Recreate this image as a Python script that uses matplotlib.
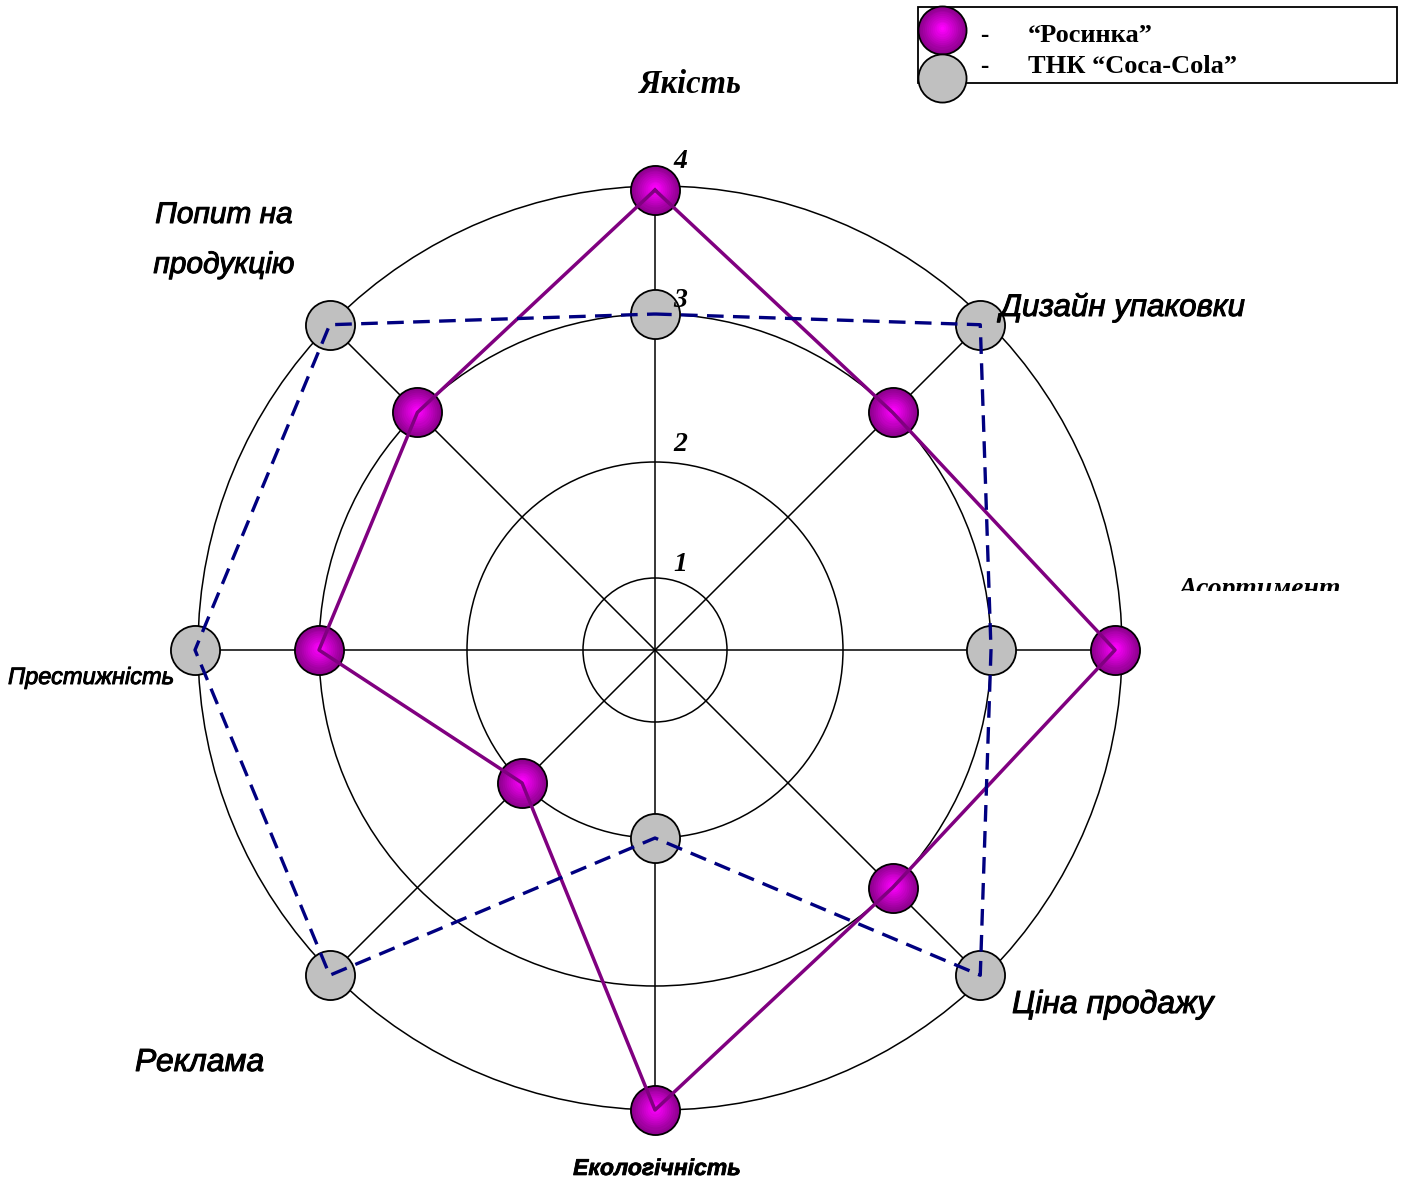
import numpy as np
import matplotlib
matplotlib.use("Agg")
import matplotlib.pyplot as plt
import matplotlib.patheffects as pe
from matplotlib.patches import Circle, Rectangle

# Показники (за годинниковою стрілкою, починаючи зверху)
pokaznyky = ["Якість", "Дизайн упаковки", "Асортимент", "Ціна продажу",
             "Екологічність", "Реклама", "Престижність", "Попит на\nпродукцію"]
rosynka = [4, 3, 4, 3, 4, 2, 3, 3]
coca_cola = [3, 4, 3, 4, 2, 4, 4, 4]

# Кола шкали (радіуси нерівномірні, як на рисунку)
shkala = [1, 2, 3, 4]
shkala_r = [72, 188, 336, 460]
pidpys_dy = [7, 11, 7, 22]

cx, cy = 655, 650
kuty = np.deg2rad(90 - 45 * np.arange(len(pokaznyky)))


def koord(znach):
    r = np.interp(znach, shkala, shkala_r)
    return cx + r * np.cos(kuty), cy - r * np.sin(kuty)


fig = plt.figure(figsize=(14.02, 11.8), dpi=100)
ax = fig.add_axes([0, 0, 1, 1])
ax.set_xlim(0, 1402)
ax.set_ylim(1180, 0)
ax.axis("off")

# Кола та промені
for i, r in enumerate(shkala_r):
    c = (cx + 5, cy - 2) if i == len(shkala_r) - 1 else (cx, cy)
    ax.add_patch(Circle(c, r + (2 if i == len(shkala_r) - 1 else 0), fill=False,
                        ec="black", lw=1.1, zorder=1))
R = shkala_r[-1]
for t in kuty[:4]:
    ax.plot([cx - R * np.cos(t), cx + R * np.cos(t)],
            [cy + R * np.sin(t), cy - R * np.sin(t)], color="black", lw=1.1, zorder=1)


def kulky(x, y, s=1250):
    # імітація градієнта кульки шарами
    x = np.asarray(x, dtype=float)
    y = np.asarray(y, dtype=float)
    ax.scatter(x, y, s=s, c="#900090", edgecolors="black", linewidths=1.3, zorder=2)
    for k in range(1, 12):
        f = 1 - k / 12
        col = (0.56 + 0.44 * k / 11, 0, 0.56 + 0.44 * k / 11)
        ax.scatter(x, y - 2 * k / 11, s=s * f ** 2 * 0.95, color=col, lw=0, zorder=2)


xr, yr = koord(rosynka)
xc, yc = koord(coca_cola)

kulky(xr, yr)
ax.scatter(xc, yc, s=1250, c="#c0c0c0", edgecolors="black", linewidths=1.3, zorder=2)

ax.plot(np.append(xr, xr[0]), np.append(yr, yr[0]), color="#800080", lw=2.5, zorder=3)
ax.plot(np.append(xc, xc[0]), np.append(yc, yc[0]), color="#000080", lw=2.4,
        ls=(0, (5, 2.8)), zorder=3)

# Підписи шкали
for v, r, dy in zip(shkala, shkala_r, pidpys_dy):
    ax.text(673, cy - r - dy, str(v), family="Liberation Serif", style="italic",
            weight="bold", fontsize=20, va="baseline", zorder=4)

sans = "Liberation Sans"
tovst = [pe.withStroke(linewidth=0.7, foreground="black")]
ax.text(690, 93, pokaznyky[0], family="Liberation Serif", style="italic",
        weight="bold", fontsize=23.5, ha="center", va="baseline")
ax.text(1000, 316, pokaznyky[1], family=sans, style="italic", fontsize=22.5,
        va="baseline", path_effects=tovst)
t = ax.text(1178, 596, pokaznyky[2], family="Liberation Serif", style="italic",
            weight="bold", fontsize=20, va="baseline", clip_on=True)
t.set_clip_path(Rectangle((1100, 540), 300, 51, transform=ax.transData))
ax.text(1012, 1013, pokaznyky[3], family=sans, style="italic", fontsize=23,
        va="baseline", path_effects=tovst)
ax.text(657, 1175, pokaznyky[4], family=sans, style="italic",
        weight="bold", fontsize=16.5, ha="center", va="baseline",
        path_effects=[pe.withStroke(linewidth=0.5, foreground="black")])
ax.text(135, 1071, pokaznyky[5], family=sans, style="italic", fontsize=23,
        va="baseline", path_effects=tovst)
ax.text(8, 684, pokaznyky[6], family=sans, style="italic", fontsize=17,
        va="baseline", path_effects=tovst)
ax.text(224, 240, pokaznyky[7], family=sans, style="italic", fontsize=21.5,
        ha="center", va="center", linespacing=2.0, path_effects=tovst)

# Легенда
ax.add_patch(Rectangle((918, 7), 479, 76, fill=False, ec="black", lw=1.3, zorder=1))
kulky([942], [30], s=1200)
ax.scatter([942], [78], s=1200, c="#c0c0c0", edgecolors="black", linewidths=1.3, zorder=2)
for y, nazva in [(42, "“Росинка”"), (73, "ТНК “Coca-Cola”")]:
    ax.text(980, y, "-", family="Liberation Serif", weight="bold", fontsize=18, va="baseline")
    ax.text(1028, y, nazva, family="Liberation Serif", weight="bold", fontsize=19,
            va="baseline")

plt.savefig("out.png", dpi=100)
